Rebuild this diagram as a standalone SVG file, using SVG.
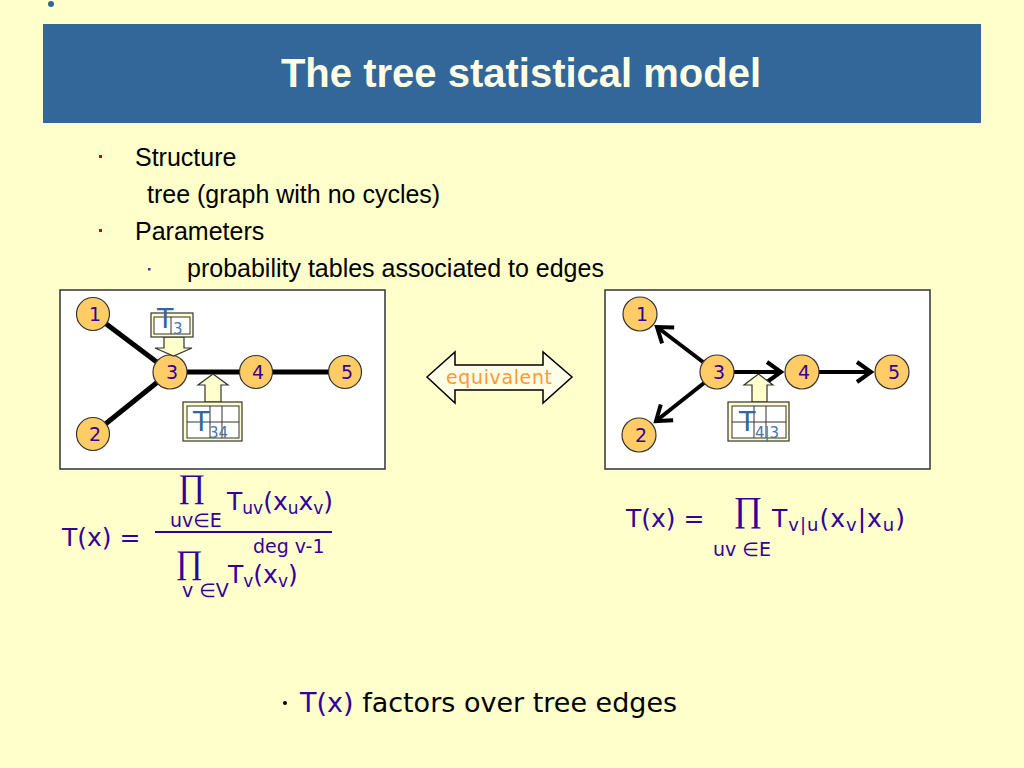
<svg xmlns="http://www.w3.org/2000/svg" width="1024" height="768" viewBox="0 0 1024 768">
<style>
.box{fill:#FFFFFF;stroke:#333333;stroke-width:1.5}
.node{fill:#FFCC66;stroke:#333333;stroke-width:1.2}
.nl{font-family:"DejaVu Sans",sans-serif;font-size:19px;fill:#330099;text-anchor:middle}
.edge{stroke:#000000;stroke-width:5;fill:none}
.darr{stroke:#000000;stroke-width:4;fill:none;marker-end:url(#chev)}
.frame{fill:#FFFFCC;stroke:#333333;stroke-width:1.2}
.cell{fill:#FFFFFF;stroke:#333333;stroke-width:1}
.grid{stroke:#333333;stroke-width:1}
.tt{font-family:"DejaVu Sans",sans-serif;font-size:27px;fill:#336699}
.ts{font-family:"DejaVu Sans",sans-serif;font-size:15px;fill:#4477AA}
.parr{fill:#FFFFCC;stroke:#333333;stroke-width:1.2}
.f{font-family:"DejaVu Sans",sans-serif;font-size:25px;fill:#330099}
.fs{font-family:"DejaVu Sans",sans-serif;font-size:19px;fill:#330099}
.pi{font-family:"Liberation Serif","DejaVu Serif",serif;fill:#330099;text-anchor:middle}
.bl{font-family:"Liberation Sans",Arial,sans-serif;font-size:25px;fill:#000000}
</style>
<defs>
<marker id="chev" markerUnits="userSpaceOnUse" viewBox="0 0 20 24" markerWidth="20" markerHeight="24" refX="16" refY="12" orient="auto" overflow="visible">
<path d="M2,2 L16,12 L2,22" fill="none" stroke="#000000" stroke-width="4"/>
</marker>
</defs>
<rect x="0" y="0" width="1024" height="768" fill="#FFFFCC"/>
<circle cx="51" cy="4" r="3" fill="#336699"/>
<rect x="43" y="24" width="938" height="99" fill="#336699"/>
<text x="521" y="87" text-anchor="middle" font-family="Liberation Sans,Arial,sans-serif" font-size="40" font-weight="bold" fill="#FFFFE6">The tree statistical model</text>

<g id="bullets">
<rect x="99" y="155" width="3" height="3" fill="#CC0000"/>
<text class="bl" x="135" y="166">Structure</text>
<text class="bl" x="147" y="203">tree (graph with no cycles)</text>
<rect x="99" y="229" width="3" height="3" fill="#CC0000"/>
<text class="bl" x="135" y="240">Parameters</text>
<rect x="148" y="268" width="2.5" height="2.5" fill="#333399"/>
<text class="bl" x="187" y="277">probability tables associated to edges</text>
</g>

<rect class="box" x="60" y="290" width="325" height="179"/>
<rect class="box" x="605" y="290" width="325" height="179"/>

<g id="connectors">
<line class="edge" x1="93" y1="314" x2="170" y2="372"/>
<line class="edge" x1="93" y1="434" x2="170" y2="372"/>
<line class="edge" x1="170" y1="372" x2="256" y2="372"/>
<line class="edge" x1="256" y1="372" x2="345" y2="372"/>
<line class="darr" x1="703" y1="362" x2="657" y2="327"/>
<line class="darr" x1="704" y1="383" x2="656" y2="421"/>
<line class="darr" x1="734" y1="372" x2="781" y2="372"/>
<line class="darr" x1="819" y1="372" x2="871" y2="372"/>
</g>

<g id="left-n1"><circle class="node" cx="93" cy="314" r="16.5"/><text class="nl" x="95" y="321">1</text></g>
<g id="left-n2"><circle class="node" cx="93" cy="434" r="16.5"/><text class="nl" x="95" y="441">2</text></g>
<g id="left-n3"><circle class="node" cx="170" cy="372" r="17"/><text class="nl" x="172" y="379">3</text></g>
<g id="left-n4"><circle class="node" cx="256" cy="372" r="16.5"/><text class="nl" x="258" y="379">4</text></g>
<g id="left-n5"><circle class="node" cx="345" cy="372" r="16.5"/><text class="nl" x="347" y="379">5</text></g>

<g id="right-n1"><circle class="node" cx="640" cy="314" r="17"/><text class="nl" x="642" y="321">1</text></g>
<g id="right-n2"><circle class="node" cx="639" cy="435" r="17"/><text class="nl" x="641" y="442">2</text></g>
<g id="right-n3"><circle class="node" cx="717" cy="372" r="17"/><text class="nl" x="719" y="379">3</text></g>
<g id="right-n4"><circle class="node" cx="802" cy="372" r="17"/><text class="nl" x="804" y="379">4</text></g>
<g id="right-n5"><circle class="node" cx="892" cy="372" r="17"/><text class="nl" x="894" y="379">5</text></g>

<g id="table-T3">
<polygon class="parr" points="164,337 184,337 184,348 192,348 173.5,356 155,348 164,348"/>
<rect class="frame" x="151" y="313" width="42" height="24"/>
<rect class="cell" x="154" y="317" width="36" height="17"/>
<line class="grid" x1="171" y1="317" x2="171" y2="334"/>
<text class="tt" x="157" y="328">T</text>
<text class="ts" x="173" y="334">3</text>
</g>

<g id="table-T34">
<polygon class="parr" points="205,402 221,402 221,385 228,385 213,374 198,385 205,385"/>
<rect class="frame" x="183" y="402" width="59" height="39"/>
<rect class="cell" x="187" y="406" width="52" height="32"/>
<line class="grid" x1="210" y1="406" x2="210" y2="438"/>
<line class="grid" x1="222" y1="406" x2="222" y2="438"/>
<line class="grid" x1="187" y1="422" x2="239" y2="422"/>
<text class="tt" x="193" y="431">T</text>
<text class="ts" x="209" y="438">34</text>
</g>

<g id="table-T43">
<polygon class="parr" points="752,402 767,402 767,385 773,385 758.5,374 744,385 752,385"/>
<rect class="frame" x="728" y="402" width="61" height="39"/>
<rect class="cell" x="732" y="406" width="54" height="32"/>
<line class="grid" x1="754" y1="406" x2="754" y2="438"/>
<line class="grid" x1="766" y1="406" x2="766" y2="438"/>
<line class="grid" x1="732" y1="422" x2="786" y2="422"/>
<text class="tt" x="739" y="431">T</text>
<text class="ts" x="755" y="438" font-size="16">4|3</text>
</g>

<g id="equivalent">
<polygon points="427,377 455,352 455,365 543,365 543,352 572,377 543,403 543,390 455,390 455,403" fill="#FFFFE8" stroke="#000000" stroke-width="1.5"/>
<text x="499" y="384" text-anchor="middle" font-family="DejaVu Sans,sans-serif" font-size="19" fill="#FF9933" textLength="106">equivalent</text>
</g>

<g id="formula-left">
<text class="f" x="62" y="546">T(x) =</text>
<line x1="155" y1="532" x2="332" y2="532" stroke="#330099" stroke-width="2"/>
<text class="pi" x="191.5" y="497" font-size="33">∏</text>
<text class="fs" x="170" y="527">uv∈E</text>
<text class="f" x="227" y="510">T<tspan font-size="17" dy="4">uv</tspan><tspan dy="-4">(x</tspan><tspan font-size="17" dy="4">u</tspan><tspan dy="-4">x</tspan><tspan font-size="17" dy="4">v</tspan><tspan dy="-4">)</tspan></text>
<text class="pi" x="189" y="573" font-size="33">∏</text>
<text class="fs" x="182" y="597">v ∈V</text>
<text class="f" x="228" y="583">T<tspan font-size="17" dy="4">v</tspan><tspan dy="-4">(x</tspan><tspan font-size="17" dy="4">v</tspan><tspan dy="-4">)</tspan></text>
<text class="fs" x="253" y="553" font-size="17">deg v-1</text>
</g>

<g id="formula-right">
<text class="f" x="626" y="527">T(x) =</text>
<text class="pi" x="748" y="521" font-size="35">∏</text>
<text class="fs" x="713" y="556">uv ∈E</text>
<text class="f" x="772" y="527" font-size="26" letter-spacing="1">T<tspan font-size="18" dy="4">v|u</tspan><tspan dy="-4">(x</tspan><tspan font-size="18" dy="4">v</tspan><tspan dy="-4">|x</tspan><tspan font-size="18" dy="4">u</tspan><tspan dy="-4">)</tspan></text>
</g>

<g id="summary">
<circle cx="285" cy="703" r="2" fill="#000000"/>
<text x="300" y="712" font-family="DejaVu Sans,sans-serif" font-size="27" fill="#000000"><tspan fill="#330099">T(x)</tspan> factors over tree edges</text>
</g>
</svg>
